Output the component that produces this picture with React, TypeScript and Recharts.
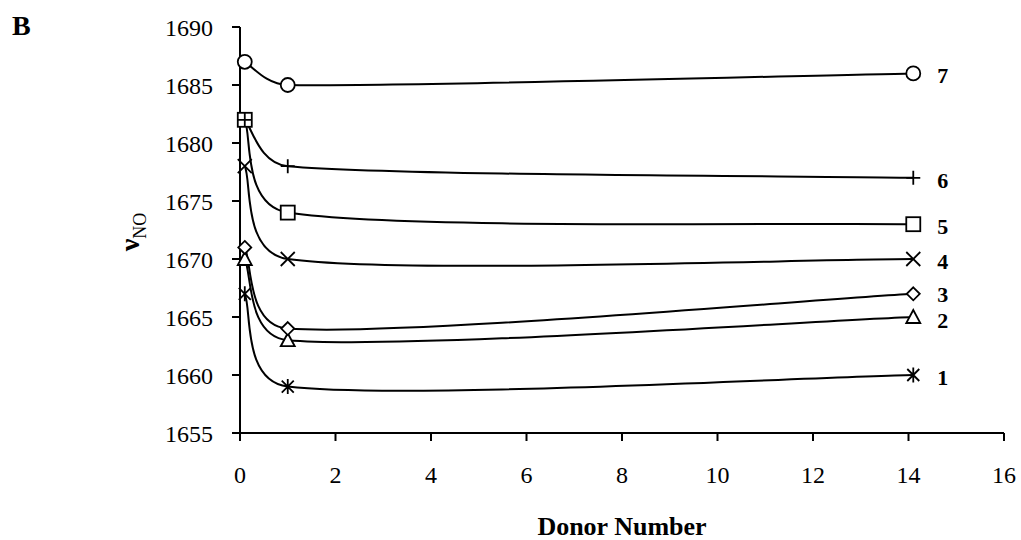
import { LabelList, Line, LineChart, XAxis, YAxis } from 'recharts'

// donor number on the x axis, shared by every series
const donorNumbers = [0.1, 1, 14.1]

// NO stretching frequency for complexes 1..7
const nu1 = [1667, 1659, 1660]
const nu2 = [1670, 1663, 1665]
const nu3 = [1671, 1664, 1667]
const nu4 = [1678, 1670, 1670]
const nu5 = [1682, 1674, 1673]
const nu6 = [1682, 1678, 1677]
const nu7 = [1687, 1685, 1686]

const xTicks = [0, 2, 4, 6, 8, 10, 12, 14, 16]
const yTicks = [1655, 1660, 1665, 1670, 1675, 1680, 1685, 1690]

type MarkerShape = 'asterisk' | 'triangle' | 'diamond' | 'cross' | 'square' | 'plus' | 'circle'

// nudge = small vertical shift of the end label so 2 and 3 don't collide
const seriesList: { key: string; label: string; values: number[]; shape: MarkerShape; nudge: number }[] = [
  { key: 's1', label: '1', values: nu1, shape: 'asterisk', nudge: 0 },
  { key: 's2', label: '2', values: nu2, shape: 'triangle', nudge: 1 },
  { key: 's3', label: '3', values: nu3, shape: 'diamond', nudge: -2 },
  { key: 's4', label: '4', values: nu4, shape: 'cross', nudge: 0 },
  { key: 's5', label: '5', values: nu5, shape: 'square', nudge: 0 },
  { key: 's6', label: '6', values: nu6, shape: 'plus', nudge: 0 },
  { key: 's7', label: '7', values: nu7, shape: 'circle', nudge: 0 },
]

const data = donorNumbers.map((x, i) => {
  const row: Record<string, number> = { x }
  seriesList.forEach((s) => {
    row[s.key] = s.values[i]
  })
  return row
})

const FONT = '"Liberation Serif", "Times New Roman", serif'

// spreadsheet-style smoothed line: cardinal tangents, handles clamped to the
// neighbouring segment so short steep segments don't loop back
function smoothCurve(context: any) {
  let pts: [number, number][] = []
  const dist = (a: [number, number], b: [number, number]) => Math.hypot(b[0] - a[0], b[1] - a[1])
  const handle = (prev: [number, number], next: [number, number], segLen: number) => {
    const dx = next[0] - prev[0]
    const dy = next[1] - prev[1]
    const len = Math.hypot(dx, dy) || 1
    const h = Math.min(len / 6, segLen * 0.45)
    return [(dx / len) * h, (dy / len) * h]
  }
  return {
    areaStart() {},
    areaEnd() {},
    lineStart() {
      pts = []
    },
    lineEnd() {
      const n = pts.length
      if (!n) return
      context.moveTo(pts[0][0], pts[0][1])
      for (let i = 0; i < n - 1; i++) {
        const p0 = pts[Math.max(i - 1, 0)]
        const p1 = pts[i]
        const p2 = pts[i + 1]
        const p3 = pts[Math.min(i + 2, n - 1)]
        const seg = dist(p1, p2)
        const [ax, ay] = handle(p0, p2, seg)
        const [bx, by] = handle(p1, p3, seg)
        context.bezierCurveTo(p1[0] + ax, p1[1] + ay, p2[0] - bx, p2[1] - by, p2[0], p2[1])
      }
    },
    point(x: number, y: number) {
      pts.push([+x, +y])
    },
  }
}

function Marker({ cx, cy, shape }: { cx: number; cy: number; shape: MarkerShape }) {
  const r = 7
  const common = { stroke: '#000', strokeWidth: 1.8, fill: '#fff' }
  switch (shape) {
    case 'circle':
      return <circle cx={cx} cy={cy} r={r} {...common} />
    case 'square':
      return <rect x={cx - r} y={cy - r} width={r * 2} height={r * 2} {...common} />
    case 'diamond':
      return (
        <polygon
          points={`${cx},${cy - 6.5} ${cx + 6.5},${cy} ${cx},${cy + 6.5} ${cx - 6.5},${cy}`}
          {...common}
        />
      )
    case 'triangle':
      return (
        <polygon points={`${cx},${cy - 7} ${cx + 7},${cy + 6} ${cx - 7},${cy + 6}`} {...common} />
      )
    case 'plus':
      return (
        <path d={`M${cx - r},${cy}H${cx + r}M${cx},${cy - r}V${cy + r}`} stroke="#000" strokeWidth={1.8} />
      )
    case 'cross':
      return (
        <path
          d={`M${cx - r},${cy - r}L${cx + r},${cy + r}M${cx - r},${cy + r}L${cx + r},${cy - r}`}
          stroke="#000"
          strokeWidth={1.8}
        />
      )
    case 'asterisk':
      return (
        <path
          d={`M${cx - 6},${cy - 6}L${cx + 6},${cy + 6}M${cx - 6},${cy + 6}L${cx + 6},${cy - 6}M${cx},${cy - 7.5}V${cy + 7.5}`}
          stroke="#000"
          strokeWidth={1.8}
        />
      )
  }
}

export default function App() {
  const last = donorNumbers.length - 1
  return (
    <div style={{ position: 'absolute', left: 0, top: 0, width: 1021, height: 540, background: '#fff' }}>
      <div
        style={{
          position: 'absolute',
          left: 12,
          top: 8,
          fontFamily: FONT,
          fontWeight: 'bold',
          fontSize: 28,
          lineHeight: '36px',
        }}
      >
        B
      </div>
      <LineChart
        width={1021}
        height={540}
        data={data}
        margin={{ top: 27, right: 17, bottom: 0, left: 0 }}
        style={{ fontFamily: FONT }}
      >
        <XAxis
          dataKey="x"
          type="number"
          domain={[0, 16]}
          ticks={xTicks}
          height={107}
          tickSize={8}
          tickMargin={25}
          axisLine={{ stroke: '#000', strokeWidth: 2 }}
          tickLine={{ stroke: '#000', strokeWidth: 2 }}
          tick={{ fill: '#000', fontSize: 24, fontFamily: FONT }}
          label={{
            content: () => (
              <text
                x={622}
                y={535}
                textAnchor="middle"
                fontFamily={FONT}
                fontWeight="bold"
                fontSize={26}
                fill="#000"
              >
                Donor Number
              </text>
            ),
          }}
        />
        <YAxis
          type="number"
          domain={[1655, 1690]}
          ticks={yTicks}
          width={240}
          tickSize={8}
          tickMargin={19}
          axisLine={{ stroke: '#000', strokeWidth: 2 }}
          tickLine={{ stroke: '#000', strokeWidth: 2 }}
          tick={{ fill: '#000', fontSize: 24, fontFamily: FONT }}
          label={{
            content: () => (
              <text
                transform="translate(139,232) rotate(-90)"
                textAnchor="middle"
                fontFamily={FONT}
                fill="#000"
              >
                <tspan fontWeight="bold" fontSize={28}>
                  ν
                </tspan>
                <tspan fontSize={18} dy={7}>
                  NO
                </tspan>
              </text>
            ),
          }}
        />
        {seriesList.map((s) => (
          <Line
            key={s.key}
            dataKey={s.key}
            type={smoothCurve as any}
            stroke="#000"
            strokeWidth={2}
            isAnimationActive={false}
            dot={(p: any) => <Marker key={`${s.key}-${p.index}`} cx={p.cx} cy={p.cy} shape={s.shape} />}
            activeDot={false}
          >
            <LabelList
              dataKey={s.key}
              content={(p: any) =>
                p.index === last ? (
                  <text
                    x={p.x + 24}
                    y={p.y + 10 + s.nudge}
                    fontFamily={FONT}
                    fontWeight="bold"
                    fontSize={22}
                    fill="#000"
                  >
                    {s.label}
                  </text>
                ) : null
              }
            />
          </Line>
        ))}
      </LineChart>
    </div>
  )
}
